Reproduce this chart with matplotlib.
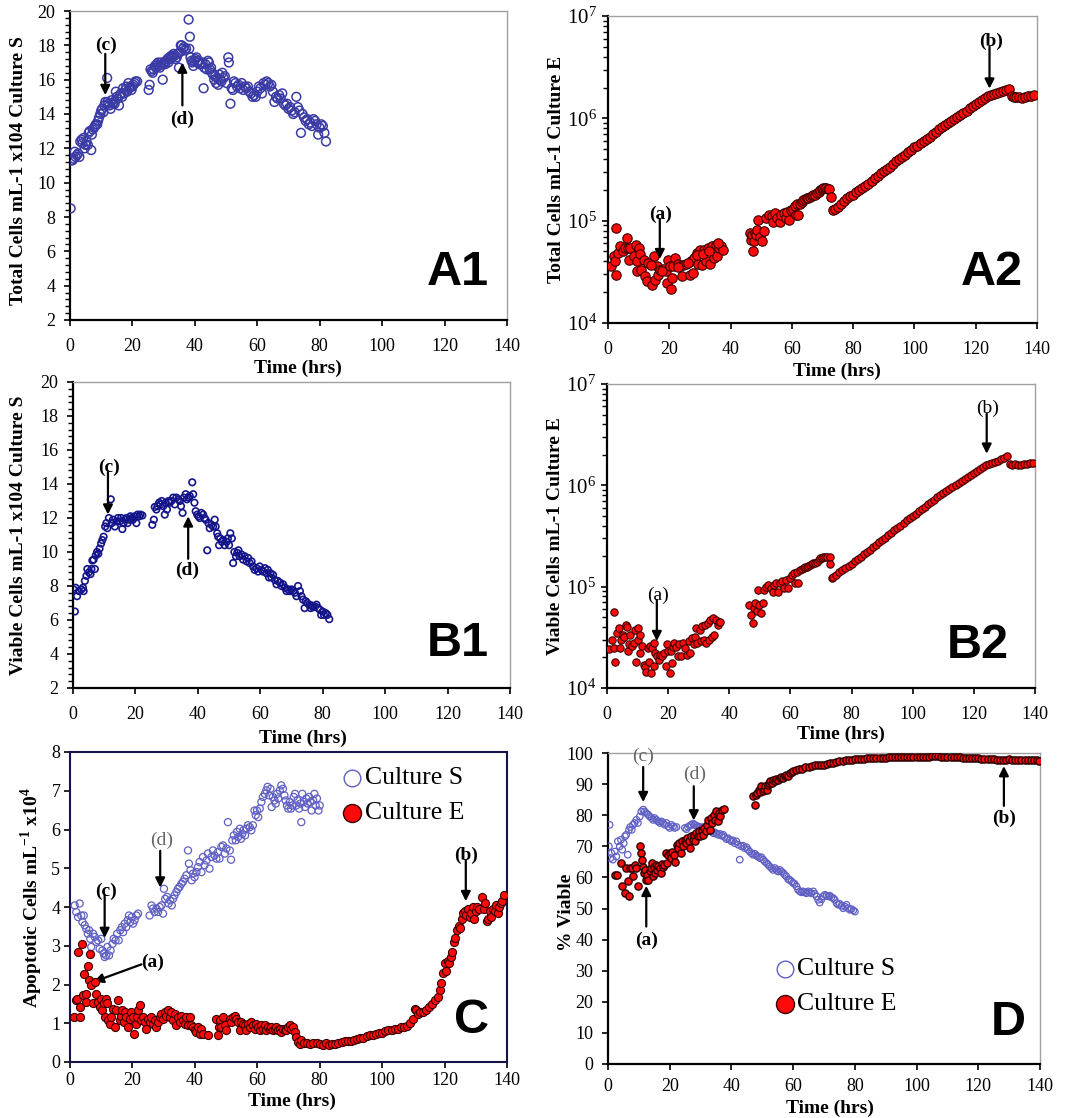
import matplotlib
matplotlib.use("Agg")
import matplotlib.pyplot as plt
import numpy as np
from matplotlib.ticker import MultipleLocator, LogLocator, NullFormatter

plt.rcParams['font.family'] = 'serif'
plt.rcParams['font.serif'] = ['Liberation Serif', 'DejaVu Serif']
plt.rcParams['mathtext.fontset'] = 'custom'
plt.rcParams['mathtext.rm'] = 'Liberation Serif'
plt.rcParams['mathtext.bf'] = 'Liberation Serif:bold'

# ---- data (time hrs, value) ----
# A1: total cells culture S (x10^4 /mL)
a1_s = [(0.2,8.5),(0.4,11.3),(0.8,11.3),(1.2,11.4),(1.5,11.8),(1.8,11.5),(2.2,11.6),(2.6,11.7),(3.0,11.5),
        (3.3,12.4),(3.7,12.5),(4.0,12.3),(4.3,12.6),(4.7,12.0),(5.0,12.2),(5.3,12.4),(5.7,12.2),(6.0,12.9),
        (6.3,13.0),(6.8,11.9),(7.0,12.8),(7.3,13.1),(7.7,13.2),(8.0,13.3),(8.3,13.4),(8.7,13.4),(9.0,13.6),
        (9.3,13.8),(9.7,14.0),(10.0,14.2),(10.3,14.3),(10.7,14.1),(11.0,14.5),(11.3,14.7),(11.9,16.1),
        (12.0,14.7),(12.3,14.6),(12.7,14.5),(13.0,14.3),(13.3,14.8),(13.7,14.6),(14.0,14.7),(14.3,14.6),
        (14.7,15.3),(15.0,15.0),(15.3,14.9),(15.7,14.5),(16.0,15.1),(16.3,15.2),(16.7,15.0),(17.0,15.5),
        (17.3,15.2),(17.7,15.4),(18.0,15.6),(18.3,15.3),(18.7,15.8),(19.0,15.5),(19.3,15.6),(19.7,15.4),
        (20.0,15.6),(20.3,15.7),(20.7,15.8),(21.0,15.9),(21.5,15.9),
        (25.2,15.4),(25.5,15.7),(25.8,16.6),(26.2,16.5),(26.5,16.4),(26.8,16.6),(27.2,16.8),(27.5,16.7),
        (27.8,16.9),(28.2,17.0),(28.5,16.8),(28.8,16.7),(29.2,17.0),(29.7,16.0),(29.9,16.9),(30.2,17.0),
        (30.5,16.9),(30.8,17.1),(31.2,17.2),(31.5,17.0),(31.8,17.3),(32.2,17.2),(32.5,17.4),(32.8,17.3),
        (33.2,17.5),(33.5,17.4),(33.8,17.2),(34.2,17.3),(34.5,17.5),(34.9,16.7),(35.2,17.6),(35.5,18.0),
        (35.8,18.0),(36.2,17.8),(36.5,17.9),(36.8,17.7),(37.2,17.8),(38.0,19.5),(38.4,18.5),(38.2,17.8),
        (38.6,17.3),(38.9,17.1),(39.2,17.0),(39.5,16.8),(39.8,17.1),(40.2,17.2),(40.5,17.3),(40.8,17.0),
        (41.2,17.1),(41.5,16.9),(42.0,16.9),(42.8,15.5),(42.5,17.0),(43.0,16.7),(43.4,16.9),(43.8,16.6),
        (44.2,17.1),(44.5,17.0),(44.8,16.6),(45.2,16.7),(45.5,16.4),(45.8,16.3),(46.2,16.0),(46.5,16.2),
        (46.8,15.8),(47.2,16.1),(47.5,15.7),(47.8,16.3),(48.2,16.0),(48.5,15.9),(48.8,16.4),(49.2,16.1),
        (49.6,16.2),(50.7,17.3),(50.9,17.0),(51.4,14.6),(50.2,15.8),(51.8,15.5),(52.2,15.4),(52.5,15.9),
        (53.0,15.8),(53.5,15.6),(54.0,15.7),(54.5,15.5),(55.0,15.8),(55.5,15.4),(56.0,15.6),(56.5,15.5),
        (57.0,15.6),(57.5,15.3),(58.0,15.2),(58.5,15.0),(59.0,15.1),(59.5,15.0),(60.0,15.3),(60.5,15.6),
        (61.0,15.5),(61.5,15.2),(62.0,15.8),(62.5,15.7),(63.0,15.9),(63.5,15.8),(64.0,15.6),(64.5,15.7),
        (65.0,15.3),(65.5,14.7),(66.0,15.0),(66.5,14.9),(67.0,15.1),(67.5,14.9),(68.0,15.2),(68.5,14.6),
        (69.0,14.5),(69.5,14.6),(70.0,14.3),(70.5,14.4),(71.0,14.2),(71.5,14.0),(72.0,14.1),(72.5,15.0),
        (73.0,14.4),(73.5,14.2),(74.0,12.9),(74.5,14.0),(75.0,13.8),(75.5,13.6),(76.0,13.7),(76.5,13.4),
        (77.0,13.5),(77.5,13.3),(78.0,13.7),(78.5,13.6),(79.0,13.4),(79.5,12.8),(80.0,13.2),(80.5,13.4),
        (81.0,13.3),(81.5,12.9),(82.0,12.4)]

# A2: total cells culture E (/mL)
a2_e = [(1.1,3.6e4),(1.9,4.5e4),(2.3,4.0e4),(2.5,8.4e4),(2.7,2.95e4),(3.4,4.8e4),(3.8,5.6e4),(4.9,5.0e4),
        (5.4,5.4e4),(6.2,6.7e4),(6.5,5.4e4),(7.1,5.4e4),(6.9,4.1e4),(8.4,4.5e4),(9.3,5.8e4),(9.6,4.0e4),
        (10.0,5.4e4),(10.3,4.7e4),(9.4,3.2e4),(10.8,3.3e4),(11.7,4.1e4),(12.0,2.85e4),(12.8,2.55e4),
        (13.6,3.8e4),(14.4,2.35e4),(15.1,4.5e4),(15.2,2.65e4),(16.0,3.6e4),(16.3,2.95e4),(17.1,3.3e4),
        (18.0,3.4e4),(18.8,3.2e4),(19.4,2.45e4),(19.7,4.1e4),(20.2,3.6e4),(20.5,2.15e4),(21.0,2.75e4),
        (21.2,3.6e4),(22.0,4.3e4),(22.9,3.8e4),(23.4,3.6e4),(24.3,2.85e4),(24.5,3.7e4),(25.6,3.8e4),
        (26.7,2.95e4),(27.2,4.0e4),(27.8,3.05e4),(28.0,4.3e4),(28.9,4.8e4),(29.4,3.8e4),(30.0,5.2e4),
        (30.8,3.7e4),(31.4,5.2e4),(32.1,4.0e4),(32.7,5.4e4),(33.4,3.8e4),(34.1,5.6e4),(34.5,4.3e4),
        (35.2,5.8e4),(35.6,4.5e4),(36.3,5.4e4),(37.0,5.6e4),(37.4,5.2e4),(13.0,3.9e4),(14.0,3.7e4),
        (17.5,3.2e4),(23.0,3.5e4),(26.0,3.9e4),(29.0,4.6e4),(31.0,4.7e4),(33.0,5.1e4),(36.0,6.0e4),
        (46.5,7.5e4),(46.8,6.5e4),(46.9,7.2e4),(47.4,5.1e4),(47.5,6.3e4),(47.9,7.5e4),(48.3,7.2e4),
        (48.5,8.1e4),(49.0,1.02e5),(49.6,7.0e4),(50.1,6.3e4),(50.9,8.0e4),(51.7,1.05e5),(52.6,1.13e5),
        (53.4,1.1e5),(53.9,9.8e4),(54.5,1.18e5),(55.2,1.05e5),(56.1,9.6e4),(56.6,1.13e5),(57.4,1.18e5),
        (58.1,1.05e5),(58.5,1.22e5),(59.2,1.02e5),(59.6,1.28e5),(60.5,1.3e5),(61.0,1.4e5),(61.3,1.13e5),
        (61.8,1.45e5),(62.1,1.13e5),(62.6,1.45e5),(63.2,1.52e5),(63.7,1.6e5),(64.3,1.62e5),(64.8,1.65e5),
        (65.4,1.68e5),(65.9,1.72e5),(66.5,1.75e5),(67.0,1.78e5),(67.6,1.8e5),(68.1,1.85e5),(68.7,1.92e5),
        (69.2,2.0e5),(69.8,2.04e5),(70.3,2.07e5),(70.8,2.08e5),(71.3,2.1e5),(71.8,2.06e5),(72.2,2.02e5),
        (72.7,1.7e5),
        (73.5,1.27e5),(74,1.3e5),(75,1.35e5),(76,1.45e5),(77,1.55e5),(78,1.65e5),(79,1.75e5),(80,1.8e5),
        (81,1.9e5),(82,2.0e5),(83,2.1e5),(84,2.2e5),(85,2.3e5),(86,2.45e5),(87,2.6e5),(88,2.75e5),
        (89,2.9e5),(90,3.05e5),(91,3.2e5),(92,3.35e5),(93,3.6e5),(94,3.8e5),(95,4.0e5),(96,4.2e5),
        (97,4.4e5),(98,4.65e5),(99,4.9e5),(100,5.2e5),(101,5.4e5),(102,5.7e5),(103,6.0e5),(104,6.3e5),
        (105,6.6e5),(106,7.0e5),(107,7.4e5),(108,7.8e5),(109,8.2e5),(110,8.7e5),(111,9.0e5),(112,9.4e5),
        (113,9.8e5),(114,1.03e6),(115,1.08e6),(116,1.13e6),(117,1.19e6),(118,1.25e6),(119,1.31e6),
        (120,1.37e6),(121,1.44e6),(122,1.51e6),(123,1.58e6),(124,1.65e6),(125,1.7e6),(126,1.74e6),
        (127,1.78e6),(128,1.82e6),(129,1.86e6),(130,1.9e6),(131,1.93e6),(131.8,1.65e6),(132.5,1.62e6),
        (133.3,1.63e6),(134.2,1.6e6),(135,1.58e6),(136,1.62e6),(137,1.64e6),(138,1.66e6),(139,1.68e6)]

# B1: viable cells culture S (x10^4 /mL)
b1_s = [(0.6,6.5),(0.2,7.8),(0.8,7.9),(1.3,7.4),(1.9,7.7),(2.7,7.8),(3.2,7.9),(3.4,7.7),(3.8,8.3),
        (4.3,8.6),(4.6,9.0),(5.1,8.8),(5.6,8.7),(5.9,9.0),(6.2,9.5),(6.6,9.55),(7.0,9.0),(7.3,9.8),
        (7.7,10.0),(8.1,9.9),(8.5,10.2),(9.0,10.5),(9.4,10.7),(9.8,10.9),(10.3,11.5),(10.7,11.7),
        (11.0,11.4),(11.5,12.0),(12.1,13.1),(12.4,11.7),(12.8,11.9),(13.4,11.5),(13.9,11.8),(14.4,12.0),
        (15.0,11.8),(15.4,12.0),(15.8,11.35),(16.2,11.7),(16.7,11.9),(17.1,12.0),(17.5,11.7),(18.0,11.9),
        (18.4,12.1),(18.8,12.0),(19.2,11.9),(19.8,12.1),(20.3,11.7),(20.7,12.2),(21.2,12.1),(21.6,12.2),
        (22.2,12.15),
        (25.4,11.6),(25.9,11.9),(26.2,12.65),(26.7,12.5),(27.1,12.7),(27.6,12.9),(28.0,12.8),(28.4,13.0),
        (28.9,12.7),(29.4,12.2),(29.7,12.9),(30.1,12.5),(30.6,13.0),(31.0,12.9),(31.5,13.0),(32.1,13.2),
        (32.6,12.8),(33.1,13.2),(33.7,13.1),(34.2,13.0),(34.6,12.7),(35.1,12.3),(35.5,13.2),(36.1,13.4),
        (36.5,13.1),(37.0,13.2),(37.4,13.3),(38.2,14.1),(38.5,13.4),(38.9,12.9),(39.3,12.4),(39.8,12.2),
        (40.2,12.1),(40.6,12.0),(41.1,12.3),(41.7,12.2),(42.1,12.0),(42.5,11.9),(43.0,10.1),(43.4,11.7),
        (43.8,11.4),(44.4,11.6),(44.9,11.5),(45.4,11.9),(45.7,11.5),(46.2,11.1),(46.5,10.9),(46.8,10.4),
        (47.2,10.8),(47.7,10.6),(48.1,10.7),(48.6,10.4),(49.2,10.6),(49.6,10.8),(50.0,10.4),(50.4,11.1),
        (50.9,10.8),(51.3,9.35),(51.7,10.0),(52.2,9.75),(52.6,9.95),(53.0,10.1),(53.4,9.75),(54.0,9.85),
        (54.5,9.55),(55.0,9.75),(55.6,9.45),(56.1,9.65),(56.6,9.35),(57.2,9.45),(57.7,9.15),(58.2,8.95),
        (58.8,9.05),(59.3,8.85),(59.8,9.15),(60.4,8.95),(60.9,8.85),(61.5,9.05),(62.0,8.75),(62.4,8.95),
        (62.8,8.5),(63.3,8.75),(63.6,8.5),(64.1,8.65),(64.7,8.35),(65.2,8.1),(65.6,8.3),(66.3,8.2),
        (66.8,8.0),(67.3,8.1),(67.9,7.9),(68.4,7.7),(68.9,7.8),(69.5,7.7),(70.0,7.8),(70.5,7.7),
        (71.1,7.6),(71.6,7.4),(72.1,8.0),(72.7,7.7),(73.2,7.4),(73.7,7.2),(74.2,6.7),(74.6,7.1),
        (75.0,7.0),(75.7,6.9),(76.1,6.7),(76.5,6.85),(76.9,6.75),(77.5,6.8),(78.0,6.9),(78.5,6.7),
        (79.1,6.6),(79.5,6.3),(80.0,6.5),(80.4,6.3),(81.0,6.4),(81.5,6.3),(82.1,6.05)]

# B2: viable cells culture E (/mL)
b2_e = [(0.5,2.4e4),(1.6,3.0e4),(2.2,2.5e4),(2.4,5.6e4),(2.7,1.8e4),(3.3,3.5e4),(3.8,3.9e4),(4.1,2.5e4),
        (4.6,3.0e4),(5.2,3.35e4),(5.7,3.2e4),(6.1,4.2e4),(6.5,4.0e4),(6.8,2.3e4),(7.1,2.7e4),(7.6,3.35e4),
        (8.2,2.6e4),(8.7,2.8e4),(9.3,3.75e4),(9.6,1.8e4),(10.0,3.9e4),(10.3,3.0e4),(10.7,3.35e4),
        (10.9,2.2e4),(11.4,2.6e4),(12.0,1.7e4),(12.4,1.6e4),(12.9,1.45e4),(13.3,2.5e4),(13.7,1.8e4),
        (14.2,2.6e4),(14.4,1.4e4),(14.8,2.5e4),(15.3,2.8e4),(15.5,1.65e4),(15.8,2.2e4),(16.3,2.05e4),
        (16.9,1.9e4),(17.4,2.1e4),(18.1,2.05e4),(18.5,2.2e4),(19.2,1.65e4),(19.6,2.7e4),(19.9,2.3e4),
        (20.5,1.4e4),(20.9,2.3e4),(21.2,1.75e4),(21.6,2.55e4),(22.0,2.8e4),(22.7,2.55e4),(23.1,2.05e4),
        (23.7,2.7e4),(24.2,2.05e4),(24.8,2.8e4),(25.5,2.5e4),(26.1,2.1e4),(26.7,2.9e4),(27.2,2.2e4),
        (27.8,3.1e4),(28.3,2.7e4),(28.9,3.2e4),(29.2,3.9e4),(29.6,2.8e4),(30.3,3.75e4),(30.7,2.9e4),
        (31.2,4.05e4),(31.6,3.0e4),(32.1,4.2e4),(32.5,2.8e4),(32.9,4.4e4),(33.3,3.0e4),(33.8,4.7e4),
        (34.2,3.2e4),(34.6,4.9e4),(35.1,3.35e4),(35.6,4.7e4),(36.2,4.2e4),(36.5,4.5e4),(37.0,4.5e4),
        (46.6,6.6e4),(47.1,5.3e4),(47.7,4.4e4),(48.1,6.1e4),(48.5,6.9e4),(49.0,5.7e4),(49.3,9.2e4),
        (49.8,6.6e4),(50.3,5.5e4),(51.0,6.9e4),(51.4,9.3e4),(52.1,1.0e5),(52.8,1.05e5),(53.6,9.7e4),
        (54.2,8.9e4),(54.7,1.05e5),(55.3,1.08e5),(56.0,8.8e4),(56.6,1.08e5),(57.3,1.13e5),(58.0,9.7e4),
        (58.6,1.17e5),(59.3,9.7e4),(59.9,1.22e5),(60.5,1.3e5),(61.2,1.35e5),(61.5,1.08e5),(62.1,1.4e5),
        (62.4,1.08e5),(63.2,1.47e5),(63.8,1.5e5),(64.3,1.52e5),(64.9,1.55e5),(65.4,1.58e5),(65.9,1.6e5),
        (66.4,1.64e5),(67.0,1.67e5),(67.5,1.7e5),(68.0,1.73e5),(68.6,1.77e5),(69.2,1.83e5),(69.7,1.9e5),
        (70.3,1.94e5),(70.8,1.98e5),(71.4,1.98e5),(71.9,1.98e5),(72.8,1.95e5),(73.0,1.68e5),
        (73.5,1.22e5),(74,1.25e5),(75,1.3e5),(76,1.38e5),(77,1.45e5),(78,1.52e5),(79,1.6e5),(80,1.68e5),
        (81,1.78e5),(82,1.88e5),(83,1.98e5),(84,2.08e5),(85,2.2e5),(86,2.32e5),(87,2.45e5),(88,2.6e5),
        (89,2.75e5),(90,2.9e5),(91,3.05e5),(92,3.2e5),(93,3.4e5),(94,3.6e5),(95,3.8e5),(96,4.0e5),
        (97,4.25e5),(98,4.5e5),(99,4.75e5),(100,5.0e5),(101,5.25e5),(102,5.55e5),(103,5.85e5),
        (104,6.15e5),(105,6.5e5),(106,6.85e5),(107,7.2e5),(108,7.6e5),(109,8.0e5),(110,8.4e5),
        (111,8.8e5),(112,9.2e5),(113,9.6e5),(114,1.0e6),(115,1.05e6),(116,1.1e6),(117,1.15e6),
        (118,1.2e6),(119,1.26e6),(120,1.32e6),(121,1.38e6),(122,1.45e6),(123,1.52e6),(124,1.58e6),
        (125,1.63e6),(126,1.67e6),(127,1.7e6),(128,1.74e6),(129,1.8e6),(130,1.85e6),(131,1.95e6),
        (131.8,1.62e6),(132.5,1.6e6),(133.5,1.62e6),(134.5,1.57e6),(135.5,1.6e6),(136.5,1.62e6),
        (137.5,1.63e6),(138.5,1.65e6),(139.2,1.66e6)]

# C: apoptotic cells (x10^4 /mL)
c_s = [(1.5,4.04),(2.0,3.87),(2.6,3.74),(3.1,4.09),(3.6,3.78),(4.0,3.61),(4.4,3.78),(4.7,3.53),(5.2,3.44),
       (5.7,3.31),(6.1,3.40),(6.5,3.18),(6.8,2.97),(7.4,3.31),(7.9,3.23),(8.4,3.10),(9.0,3.14),(9.5,2.92),
       (10.0,3.18),(10.4,2.88),(10.8,2.80),(11.1,2.71),(11.6,2.75),(12.0,2.97),(12.5,2.75),(13.0,2.88),
       (13.6,3.05),(14.0,3.18),(14.6,3.14),(15.1,3.31),(15.6,3.14),(16.1,3.40),(16.6,3.48),(17.0,3.35),
       (17.5,3.57),(18.0,3.48),(18.5,3.66),(18.9,3.78),(19.3,3.61),(19.8,3.74),(20.2,3.57),(20.7,3.66),
       (21.3,3.78),(21.8,3.83),
       (25.5,3.78),(26.1,4.04),(26.6,3.96),(27.1,3.87),(27.7,3.96),(28.2,3.87),(28.7,4.0),(29.3,4.04),
       (29.8,3.83),(30.1,4.47),(30.5,4.21),(31.1,4.26),(31.6,4.09),(32.1,4.17),(32.6,4.04),(33.0,4.21),
       (33.5,4.30),(34.1,4.39),(34.6,4.47),(35.1,4.52),(35.7,4.60),(36.2,4.65),(36.7,4.73),(37.3,4.82),
       (37.8,5.46),(38.1,5.12),(38.6,4.95),(39.0,4.69),(39.4,4.86),(39.9,4.77),(40.5,4.90),(41.0,5.03),
       (41.5,5.16),(42.1,4.90),(42.6,5.29),(43.1,5.08),(43.7,5.20),(44.2,5.38),(44.7,4.99),(45.3,5.29),
       (45.8,5.46),(46.3,5.33),(46.9,5.25),(47.4,5.42),(47.9,5.25),(48.5,5.55),(49.0,5.59),(49.6,5.38),
       (50.1,5.51),(50.6,6.19),(51.2,5.46),(51.6,5.22),(52.0,5.72),(52.5,5.85),(53.1,5.72),(53.5,5.94),
       (53.9,5.81),(54.4,6.02),(54.8,5.76),(55.2,5.89),(55.6,5.98),(56.1,5.85),(56.5,6.02),(57.0,6.11),
       (57.6,6.06),(58.1,5.98),(58.6,6.11),(59.1,6.49),(59.5,6.37),(59.9,6.49),(60.3,6.32),(60.8,6.54),
       (61.3,6.71),(61.8,6.84),(62.4,6.92),(62.9,7.01),(63.3,7.10),(63.8,6.88),(64.2,7.05),(64.6,6.58),
       (65.0,6.84),(65.5,6.75),(65.9,6.67),(66.3,6.92),(66.7,6.80),(67.2,7.01),(67.7,7.14),(68.2,7.05),
       (68.7,6.88),(69.1,6.75),(69.5,6.62),(69.9,6.54),(70.4,6.71),(70.8,6.54),(71.2,6.62),(71.7,6.84),
       (72.1,6.92),(72.5,6.62),(72.9,6.75),(73.4,6.54),(73.8,6.67),(74.1,6.19),(74.4,6.92),(74.9,6.71),
       (75.3,6.58),(75.7,6.80),(76.1,6.67),(76.6,6.84),(77.0,6.71),(77.4,6.49),(77.9,6.75),(78.3,6.92),
       (78.7,6.62),(79.1,6.80),(79.6,6.49),(80.0,6.62)]

c_e = [(1.2,1.16),(1.8,1.59),(2.2,1.63),(2.6,2.84),(3.1,1.16),(3.3,1.42),(4.0,3.05),(4.2,1.72),(4.4,2.28),
       (5.0,1.55),(5.2,1.76),(5.8,2.49),(6.1,2.11),(6.5,2.80),(6.8,1.98),(7.4,1.51),(7.9,2.06),(8.4,1.76),
       (9.0,1.55),(9.5,1.42),(10.0,1.63),(10.4,1.33),(10.8,1.51),(11.1,1.16),(11.4,1.63),(11.9,1.51),
       (12.3,1.08),(12.7,0.99),(13.2,1.16),(13.8,1.38),(14.3,0.90),(14.8,1.33),(15.4,1.59),(15.9,1.08),
       (16.3,1.20),(16.8,1.33),(17.2,1.03),(17.6,1.29),(18.0,1.16),(18.6,0.90),(19.1,1.12),(19.6,1.29),
       (20.2,1.16),(20.6,0.73),(21.0,0.99),(21.5,1.16),(21.9,1.33),(22.3,1.46),(22.9,1.08),(23.4,1.16),
       (23.9,1.03),(24.5,0.86),(25.0,1.12),(25.5,1.03),(26.1,1.16),(26.6,0.99),(27.1,1.08),(27.7,0.90),
       (28.2,1.03),(28.7,1.16),(29.3,1.25),(29.8,1.12),(30.3,1.29),(30.9,1.20),(31.4,1.33),(31.9,1.16),
       (32.5,1.29),(33.0,1.08),(33.5,1.25),(34.1,0.95),(34.6,1.16),(35.1,1.03),(35.7,1.20),(36.2,1.08),
       (36.7,0.99),(37.3,1.16),(37.8,0.95),(38.3,1.16),(38.9,0.95),(39.4,0.90),(39.9,0.82),(40.5,0.77),
       (41.0,0.90),(41.5,0.73),(42.1,0.86),(42.6,0.73),(44.2,0.69),
       (46.9,1.12),(47.4,0.69),(47.7,0.90),(48.2,1.08),(48.5,0.90),(49.0,1.16),(49.6,0.95),(50.1,0.82),
       (51.2,1.12),(51.7,1.03),(52.2,1.16),(52.8,1.20),(53.3,1.12),(53.8,1.03),(54.4,0.82),(54.9,1.03),
       (55.4,0.99),(56.0,0.95),(56.5,0.82),(57.0,0.99),(57.6,0.90),(58.1,1.03),(58.6,0.95),(59.2,0.86),
       (59.7,0.99),(60.2,0.90),(60.8,0.82),(61.3,0.95),(61.8,0.86),(62.4,0.95),(62.9,0.82),(63.4,0.90),
       (64.0,0.86),(64.5,0.90),(65.0,0.82),(65.6,0.86),(66.1,0.90),(66.6,0.82),(67.2,0.86),(67.7,0.77),
       (68.2,0.86),(68.8,0.82),(69.3,0.82),(69.8,0.90),(70.4,0.95),(70.9,0.86),(71.4,0.90),(72.0,0.77),
       (72.5,0.65),(73.0,0.52),(73.6,0.47),(74.1,0.56),(75,0.48),(76,0.50),(77,0.47),(78,0.50),(79,0.48),
       (80,0.47),(81,0.45),(82,0.48),(83,0.44),(84,0.47),(85,0.46),(86,0.50),(87,0.52),(88,0.53),
       (89,0.55),(90,0.55),(91,0.58),(92,0.60),(93,0.62),(94,0.63),(95,0.66),(96,0.70),(97,0.70),
       (98,0.72),(99,0.75),(100,0.76),(101,0.80),(102,0.82),(103,0.82),(104,0.84),(105,0.85),(106,0.90),
       (107,0.90),(108,0.92),(109,1.00),(110,1.10),(110.5,1.38),(111,1.35),(111.5,1.25),(112,1.30),
       (113,1.30),(114,1.35),(115,1.42),(116,1.50),(117,1.60),(118,1.68),(118.5,1.85),(119,2.05),
       (119.5,2.30),(120,2.55),(120.5,2.35),(121,2.60),(121.5,2.55),(122,2.70),(122.5,2.85),(123,3.10),
       (123.5,3.20),(124,3.40),(124.5,3.50),(125,3.45),(125.5,3.70),(126,3.85),(126.5,3.90),(127,3.80),
       (127.5,3.95),(128,3.75),(128.5,3.85),(129,4.00),(129.5,3.70),(130,3.90),(130.5,4.00),(131,3.95),
       (132,4.25),(132.5,3.95),(133,4.10),(133.5,3.65),(134,3.70),(134.5,3.90),(135,3.75),(135.5,3.95),
       (136,3.90),(136.5,4.05),(137,3.85),(137.5,4.00),(138,4.10),(138.5,4.15),(139,4.30)]

# D: % viable
d_s = [(0.5,76.9),(0.3,70.0),(0.8,66.2),(1.1,67.8),(1.6,65.7),(2.2,68.3),(2.7,66.7),(3.2,71.6),(3.8,70.0),
       (4.2,72.1),(4.6,68.9),(5.1,71.0),(5.5,73.2),(5.9,73.7),(6.4,67.3),(6.8,75.3),(7.2,76.2),(7.7,75.3),
       (8.1,76.9),(8.6,77.5),(9.2,78.5),(9.7,77.5),(10.3,79.6),(10.8,81.2),(11.4,81.8),(11.9,81.2),
       (12.4,80.7),(13.0,80.2),(13.5,79.6),(14.1,79.1),(14.6,78.5),(15.1,79.1),(15.7,78.5),(16.2,78.0),
       (16.8,77.5),(17.3,78.0),(17.8,77.5),(18.4,76.9),(18.9,77.5),(19.5,76.4),(20.0,75.9),(20.5,76.9),
       (21.1,76.4),(21.6,75.9),(22.2,76.2),
       (24.9,75.9),(25.4,75.5),(25.9,76.2),(26.5,76.6),(27.0,76.9),(27.6,77.3),(28.1,76.9),(28.6,76.6),
       (29.2,76.4),(29.7,76.2),(30.3,75.9),(30.8,76.2),(31.4,75.9),(31.9,75.5),(32.4,75.3),(33.0,75.1),
       (33.5,74.8),(34.1,74.2),(34.6,74.5),(35.1,74.0),(35.7,73.7),(36.2,74.0),(36.8,73.4),(37.3,73.7),
       (37.8,73.0),(38.4,72.3),(38.9,72.6),(39.5,72.1),(40.0,71.6),(40.5,71.9),(41.1,71.0),(41.6,71.6),
       (42.2,70.5),(42.7,65.7),(43.2,70.0),(43.8,70.2),(44.3,69.4),(44.9,69.7),(45.4,68.9),(45.9,68.3),
       (46.5,67.8),(47.0,67.3),(47.6,67.6),(48.1,67.0),(48.6,66.7),(49.2,66.2),(49.7,66.5),(50.3,65.7),
       (50.8,65.1),(51.4,64.6),(51.9,64.1),(52.4,63.5),(53.0,63.0),(53.5,62.4),(54.1,63.0),(54.6,62.4),
       (55.1,61.9),(55.7,62.4),(56.2,61.9),(56.8,61.4),(57.3,60.8),(57.8,60.3),(58.4,59.4),(58.9,59.2),
       (59.5,58.7),(60.0,58.2),(60.5,57.9),(61.1,57.1),(61.6,56.0),(62.2,55.5),(62.7,55.2),(63.2,55.5),
       (63.8,55.2),(64.3,54.9),(64.9,55.5),(65.4,55.2),(65.9,54.9),(66.5,55.5),(67.0,54.7),(67.6,53.9),
       (68.1,52.8),(68.6,51.9),(69.2,53.0),(69.7,53.9),(70.3,54.4),(70.8,54.1),(71.4,53.9),(71.9,54.1),
       (72.4,53.6),(73.0,53.3),(73.5,52.8),(74.1,51.7),(74.6,51.2),(75.1,51.5),(75.7,50.9),(76.2,50.1),
       (76.8,50.6),(77.3,51.2),(77.8,50.1),(78.4,49.6),(78.9,49.8),(79.5,49.4),(80.0,49.0)]

d_e = [(2.2,60.8),(2.9,60.8),(4.3,64.6),(4.6,57.1),(5.4,54.9),(5.9,63.0),(6.5,58.7),(6.8,53.9),(7.2,63.0),
       (7.7,63.0),(8.1,60.3),(8.6,64.1),(9.2,63.0),(9.7,57.1),(10.3,70.0),(10.6,67.8),(10.9,65.7),
       (11.4,63.5),(11.7,61.4),(12.0,62.4),(12.4,59.2),(12.8,60.8),(13.1,59.2),(13.5,61.9),(13.8,63.0),
       (14.2,64.6),(14.6,60.5),(14.9,63.5),(15.2,61.4),(15.7,64.1),(16.0,62.4),(16.3,63.7),(16.8,63.0),
       (17.1,61.4),(17.4,64.4),(17.8,63.5),(18.3,64.1),(18.7,68.0),(19.1,64.6),(19.6,67.3),(20.0,67.8),
       (20.4,66.2),(20.9,68.3),(21.3,67.3),(21.7,65.1),(22.2,70.5),(22.6,69.4),(23.0,71.0),(23.5,67.8),
       (23.9,71.6),(24.3,70.0),(24.8,72.1),(25.2,71.0),(25.6,72.6),(26.1,71.6),(26.5,69.4),(26.9,73.2),
       (27.4,72.1),(27.8,73.7),(28.2,71.6),(28.6,74.2),(29.1,73.2),(29.5,74.8),(29.9,73.2),(30.4,75.3),
       (30.8,73.7),(31.2,75.9),(31.7,74.8),(32.1,76.9),(32.5,78.5),(33.0,75.3),(33.4,79.1),(33.8,77.5),
       (34.3,80.2),(34.7,78.5),(35.1,81.2),(35.6,78.0),(36.0,80.7),(36.4,79.6),(37.1,81.8),(37.5,82.0),
       (47.0,86.1),(47.6,83.4),(47.9,86.6),(48.3,87.1),(48.8,88.2),(49.2,87.3),(49.6,89.3),(50.1,87.7),
       (50.5,88.4),(50.9,89.3),(51.4,88.0),(51.8,89.8),(52.2,90.3),(52.6,90.9),(53.1,90.3),(53.5,91.4),
       (54.1,90.9),(54.6,91.6),(55.1,91.4),(55.7,92.0),(56.2,92.3),(56.8,92.0),(57.3,92.5),(57.8,93.0),
       (58.4,92.7),(58.9,93.6),(59.5,93.8),(60,94.1),(61,94.4),(62,94.8),(63,95.0),(64,95.4),(65,95.6),
       (66,95.8),(67,96.0),(68,96.1),(69,96.2),(70,96.3),(71,96.5),(72,96.7),(73,96.9),(74,97.1),
       (75,97.3),(76,97.5),(77,97.7),(78,97.8),(79,97.9),(80,98.0),(81,98.1),(82,98.2),(83,98.2),
       (84,98.3),(85,98.3),(86,98.4),(87,98.4),(88,98.5),(89,98.5),(90,98.5),(91,98.6),(92,98.6),
       (93,98.6),(94,98.6),(95,98.7),(96,98.7),(97,98.7),(98,98.7),(99,98.8),(100,98.8),(101,98.8),
       (102,98.8),(103,98.8),(104,98.8),(105,98.9),(106,98.9),(107,98.9),(108,98.8),(109,98.8),
       (110,98.8),(111,98.7),(112,98.7),(113,98.6),(114,98.6),(115,98.5),(116,98.5),(117,98.4),
       (118,98.4),(119,98.3),(120,98.3),(121,98.2),(122,98.1),(123,98.1),(124,98.0),(125,98.0),
       (126,97.9),(127,97.9),(128,97.8),(129,97.8),(130,98.2),(131,97.9),(132,97.8),(133,97.8),
       (134,97.8),(135,97.7),(136,97.7),(137,97.6),(138,97.6),(139,97.6),(139.6,97.5)]

x_ticks = [0, 20, 40, 60, 80, 100, 120, 140]

S_COL1 = '#3b3ba6'
S_COL2 = '#14148a'
S_COL3 = '#6060c4'
E_FACE = '#ff0a0a'
E_EDGE = '#3a0000'

W, H = 1086, 1118
fig = plt.figure(figsize=(W / 100, H / 100), dpi=100)


def box(px):
    l, t, r, b = px
    return [l / W, 1 - b / H, (r - l) / W, (b - t) / H]


def base(ax, frame='gray', xpad=9, ypad=6.5):
    ax.set_xlim(0, 140)
    ax.set_xticks(x_ticks)
    ax.tick_params(axis='both', which='major', direction='out', length=4, width=1.2, labelsize=13)
    ax.tick_params(axis='x', which='major', pad=xpad)
    ax.tick_params(axis='y', which='major', pad=ypad)
    ax.tick_params(axis='y', which='minor', direction='out', length=3.5, width=1.0)
    if frame == 'navy':
        for s in ax.spines.values():
            s.set_color('#14144a')
            s.set_linewidth(1.5)
    else:
        for s in ['left', 'bottom']:
            ax.spines[s].set_color('black')
            ax.spines[s].set_linewidth(1.6)
        for s in ['top', 'right']:
            ax.spines[s].set_color('#a0a0a0')
            ax.spines[s].set_linewidth(1.0)
    ax.set_xlabel('Time (hrs)', fontsize=14, fontweight='bold')


def arrow(ax, tail, tip, label, lpos, color='black', bold=True, lcolor=None):
    ax.annotate('', xy=tip, xytext=tail,
                arrowprops=dict(arrowstyle='-|>', color='black', lw=1.6, mutation_scale=14,
                                shrinkA=0, shrinkB=0))
    ax.text(lpos[0], lpos[1], label, ha='center', va='center', fontsize=14,
            fontweight='bold' if bold else 'normal', color=lcolor or color)


def panel_label(ax, txt, fx, fy):
    ax.text(fx, fy, txt, transform=ax.transAxes, ha='center', va='center',
            fontsize=35, fontweight='bold', family='Liberation Sans')


def lin_y(ax, lo, hi, step, minor=None):
    ax.set_ylim(lo, hi)
    ax.yaxis.set_major_locator(MultipleLocator(step))
    if minor:
        ax.yaxis.set_minor_locator(MultipleLocator(minor))


def log_y(ax):
    ax.set_yscale('log')
    ax.set_ylim(1e4, 1e7)
    ax.yaxis.set_major_locator(LogLocator(base=10, numticks=10))
    ax.yaxis.set_minor_locator(LogLocator(base=10, subs=np.arange(2, 10), numticks=20))
    ax.yaxis.set_minor_formatter(NullFormatter())
    ax.tick_params(axis='y', which='major', labelsize=15, pad=4)


def pts(p):
    a = np.array(p, dtype=float)
    return a[:, 0], a[:, 1]


# ---- A1 ----
ax = fig.add_axes(box((70, 11, 507, 320)))
base(ax)
lin_y(ax, 2, 20, 2, 0.4)
t, v = pts(a1_s)
ax.scatter(t, v, s=40, facecolors='none', edgecolors=S_COL1, linewidths=1.1, zorder=3)
ax.set_ylabel('Total Cells mL-1 x104 Culture S', fontsize=14, fontweight='bold')
ax.yaxis.set_label_coords(-0.098, 0.485)
ax.xaxis.set_label_coords(0.522, -0.130)
arrow(ax, (11.3, 17.5), (11.3, 15.1), '(c)', (11.4, 18.0))
arrow(ax, (36.0, 14.5), (36.0, 17.0), '(d)', (36.0, 13.7))
panel_label(ax, 'A1', 0.888, 0.155)

# ---- A2 ----
ax = fig.add_axes(box((608, 16, 1037, 323)))
base(ax)
log_y(ax)
t, v = pts(a2_e)
ax.scatter(t, v, s=46, facecolors=E_FACE, edgecolors=E_EDGE, linewidths=0.8, zorder=3)
ax.set_ylabel('Total Cells mL-1 Culture E', fontsize=14, fontweight='bold')
ax.yaxis.set_label_coords(-0.100, 0.5)
ax.xaxis.set_label_coords(0.534, -0.130)
arrow(ax, (16.9, 1.04e5), (16.9, 4.2e4), '(a)', (17.1, 1.14e5))
arrow(ax, (124.5, 5.0e6), (124.5, 1.95e6), '(b)', (125.0, 5.6e6))
panel_label(ax, 'A2', 0.895, 0.166)

# ---- B1 ----
ax = fig.add_axes(box((73, 382, 510, 688)))
base(ax)
lin_y(ax, 2, 20, 2, 0.4)
t, v = pts(b1_s)
ax.scatter(t, v, s=22, facecolors='none', edgecolors=S_COL2, linewidths=1.2, zorder=3)
ax.set_ylabel('Viable Cells mL-1 x104 Culture S', fontsize=14, fontweight='bold')
ax.yaxis.set_label_coords(-0.105, 0.5)
ax.xaxis.set_label_coords(0.527, -0.137)
arrow(ax, (11.2, 14.7), (11.2, 12.2), '(c)', (11.5, 15.0))
arrow(ax, (36.9, 9.6), (36.9, 12.1), '(d)', (36.5, 8.9))
panel_label(ax, 'B1', 0.881, 0.147)

# ---- B2 ----
ax = fig.add_axes(box((607, 384, 1035, 688)))
base(ax)
log_y(ax)
t, v = pts(b2_e)
ax.scatter(t, v, s=28, facecolors=E_FACE, edgecolors=E_EDGE, linewidths=0.8, zorder=3)
ax.set_ylabel('Viable Cells mL-1 Culture E', fontsize=14, fontweight='bold')
ax.yaxis.set_label_coords(-0.100, 0.5)
ax.xaxis.set_label_coords(0.547, -0.125)
arrow(ax, (16.3, 7.4e4), (16.3, 2.9e4), '(a)', (16.6, 8.3e4), bold=False)
arrow(ax, (124.2, 5.1e6), (124.2, 2.05e6), '(b)', (124.4, 5.7e6), bold=False)
panel_label(ax, 'B2', 0.867, 0.141)

# ---- C ----
ax = fig.add_axes(box((70, 752, 507, 1062)))
base(ax, frame='navy', xpad=3, ypad=3)
lin_y(ax, 0, 8, 1)
t, v = pts(c_s)
ax.scatter(t, v, s=26, facecolors='none', edgecolors=S_COL3, linewidths=0.9, zorder=3)
t, v = pts(c_e)
ax.scatter(t, v, s=34, facecolors=E_FACE, edgecolors=E_EDGE, linewidths=0.8, zorder=4)
ax.set_ylabel(r'Apoptotic Cells mL$^{\mathbf{-1}}$ x10$^{\mathbf{4}}$', fontsize=14, fontweight='bold')
ax.yaxis.set_label_coords(-0.057, 0.529)
ax.xaxis.set_label_coords(0.508, -0.100)
arrow(ax, (11.1, 4.3), (11.1, 3.2), '(c)', (11.4, 4.4))
arrow(ax, (28.9, 5.45), (28.9, 4.5), '(d)', (29.3, 5.72), bold=False, lcolor='#666666')
arrow(ax, (22.9, 2.52), (7.6, 2.07), '(a)', (26.6, 2.58))
arrow(ax, (126.8, 5.2), (126.8, 4.15), '(b)', (127.0, 5.33))
ax.plot([0.645], [0.916], 'o', transform=ax.transAxes, ms=12, mfc='none', mec=S_COL3, mew=1.0)
ax.text(0.675, 0.916, 'Culture S', transform=ax.transAxes, va='center', fontsize=18.5)
ax.plot([0.645], [0.803], 'o', transform=ax.transAxes, ms=13, mfc=E_FACE, mec=E_EDGE, mew=1.0)
ax.text(0.675, 0.803, 'Culture E', transform=ax.transAxes, va='center', fontsize=18.5)
panel_label(ax, 'C', 0.918, 0.135)

# ---- D ----
ax = fig.add_axes(box((608, 753, 1040, 1064)))
base(ax, xpad=6)
lin_y(ax, 0, 100, 10)
t, v = pts(d_s)
ax.scatter(t, v, s=22, facecolors='none', edgecolors=S_COL3, linewidths=0.9, zorder=3)
t, v = pts(d_e)
ax.scatter(t, v, s=27, facecolors=E_FACE, edgecolors='#2a0000', linewidths=1.0, zorder=4)
ax.set_ylabel('% Viable', fontsize=14, fontweight='bold')
ax.yaxis.set_label_coords(-0.076, 0.489)
ax.xaxis.set_label_coords(0.514, -0.116)
arrow(ax, (11.4, 95.5), (11.4, 84.2), '(c)', (11.4, 98.9), bold=False, lcolor='#666666')
arrow(ax, (27.8, 89.3), (27.8, 78.3), '(d)', (28.1, 93.0), bold=False, lcolor='#666666')
arrow(ax, (12.4, 44.2), (12.4, 57.3), '(a)', (12.4, 39.9))
arrow(ax, (128.3, 83.0), (128.3, 95.8), '(b)', (128.3, 79.1))
ax.plot([0.410], [0.305], 'o', transform=ax.transAxes, ms=12, mfc='none', mec=S_COL3, mew=1.0)
ax.text(0.4375, 0.305, 'Culture S', transform=ax.transAxes, va='center', fontsize=18.5)
ax.plot([0.410], [0.193], 'o', transform=ax.transAxes, ms=13, mfc=E_FACE, mec=E_EDGE, mew=1.0)
ax.text(0.4375, 0.193, 'Culture E', transform=ax.transAxes, va='center', fontsize=18.5)
panel_label(ax, 'D', 0.926, 0.132)

fig.savefig('out.png', dpi=100)
